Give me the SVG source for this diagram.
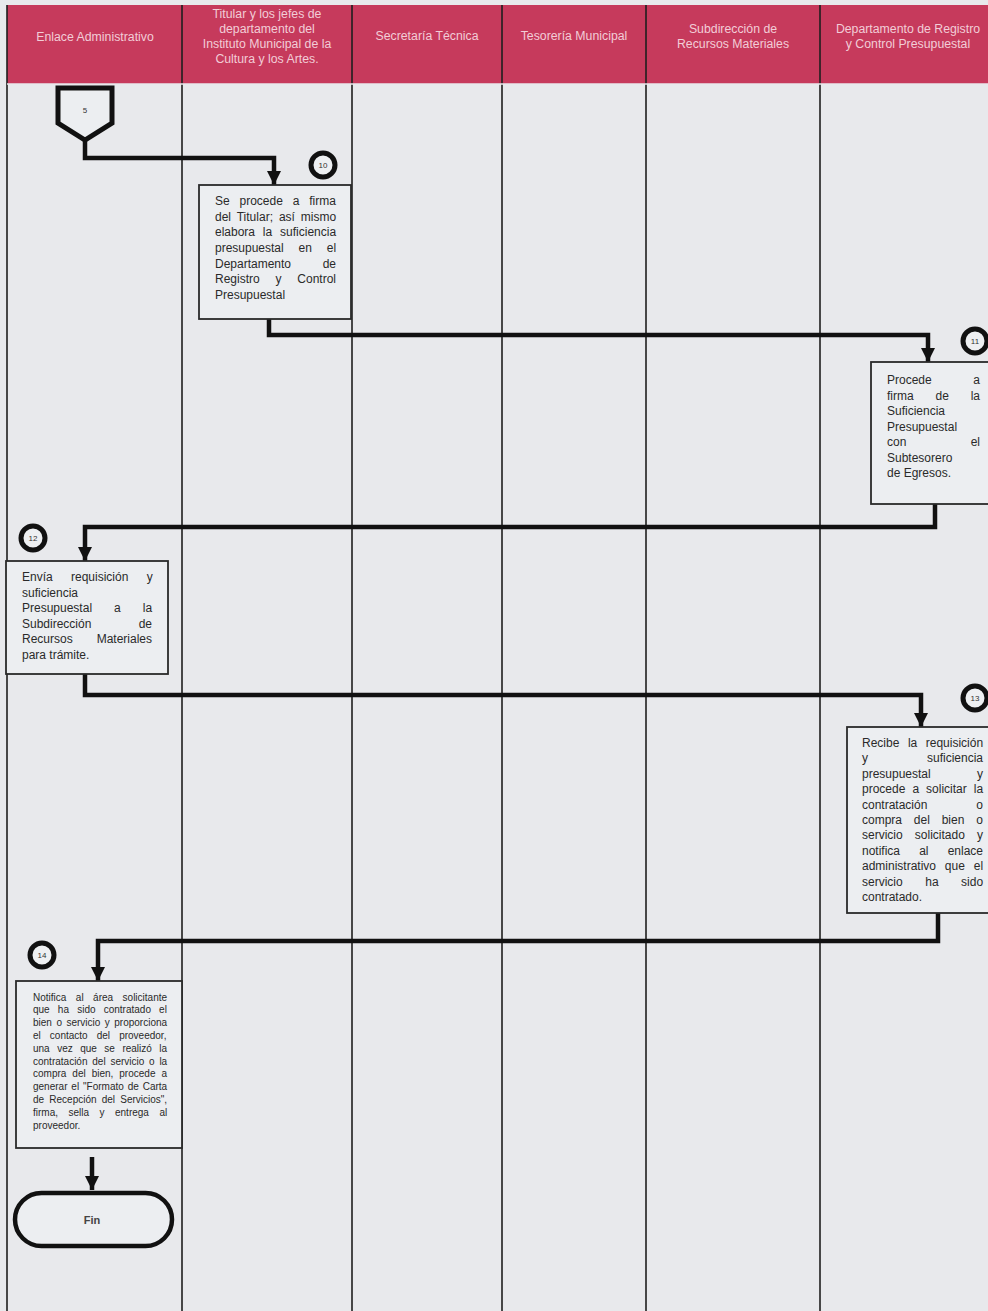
<svg xmlns="http://www.w3.org/2000/svg" width="988" height="1311" viewBox="0 0 988 1311">
<style>
.hdr{fill:#f2cdd7;font-family:"Liberation Sans",Arial,sans-serif;font-size:12.3px;text-anchor:middle}
.lane{stroke:#1e1e1e;stroke-width:1.6;fill:none}
.box{fill:#eceef1;stroke:#2a2a2a;stroke-width:1.8}
.t{font-family:"Liberation Sans",Arial,sans-serif;font-size:12px;fill:#2a2a2a}
.ts{font-family:"Liberation Sans",Arial,sans-serif;font-size:10px;fill:#2a2a2a}
.e{text-anchor:end}
.con{stroke:#111;stroke-width:4.5;fill:none}
.circ{fill:#eef0f2;stroke:#111;stroke-width:5}
.num{font-family:"Liberation Sans",Arial,sans-serif;font-size:8px;fill:#333;text-anchor:middle}
</style>
<defs>
<marker id="ah" markerUnits="userSpaceOnUse" markerWidth="16" markerHeight="16" refX="14" refY="7" orient="auto">
<path d="M0,0 L14,7 L0,14 Z" fill="#111"/>
</marker>
</defs>
<rect x="0" y="0" width="988" height="1311" fill="#e8e9ec"/>
<g id="header">
<rect x="7" y="5" width="981" height="79" fill="#c63a5c"/>
<text class="hdr" x="95" y="41">Enlace Administrativo</text>
<text class="hdr" x="267" y="18">Titular y los jefes de</text>
<text class="hdr" x="267" y="33">departamento del</text>
<text class="hdr" x="267" y="48">Instituto Municipal de la</text>
<text class="hdr" x="267" y="63">Cultura y los Artes.</text>
<text class="hdr" x="427" y="40">Secretaría Técnica</text>
<text class="hdr" x="574" y="40">Tesorería Municipal</text>
<text class="hdr" x="733" y="33">Subdirección de</text>
<text class="hdr" x="733" y="48">Recursos Materiales</text>
<text class="hdr" x="908" y="33">Departamento de Registro</text>
<text class="hdr" x="908" y="48">y Control Presupuestal</text>
</g>
<g id="lanes">
<line class="lane" x1="7" y1="5" x2="7" y2="1311"/>
<line class="lane" x1="182" y1="5" x2="182" y2="1311"/>
<line class="lane" x1="352" y1="5" x2="352" y2="1311"/>
<line class="lane" x1="502" y1="5" x2="502" y2="1311"/>
<line class="lane" x1="646" y1="5" x2="646" y2="1311"/>
<line class="lane" x1="820" y1="5" x2="820" y2="1311"/>
<line x1="7" y1="84" x2="988" y2="84" stroke="#e8e9ec" stroke-width="1.5"/>
</g>
<g id="connectors">
<path class="con" d="M85,140 V158 H274 V185" marker-end="url(#ah)"/>
<path class="con" d="M269,319 V335 H928 V362" marker-end="url(#ah)"/>
<path class="con" d="M935,504 V527 H85 V561" marker-end="url(#ah)"/>
<path class="con" d="M85,674 V695 H921 V727" marker-end="url(#ah)"/>
<path class="con" d="M938,913 V941 H98 V981" marker-end="url(#ah)"/>
<path class="con" d="M92,1157 V1190" marker-end="url(#ah)"/>
</g>
<g id="node5">
<path d="M58,88 H112 V123 L85,140 L58,123 Z" fill="#eceef1" stroke="#111" stroke-width="5"/>
<text class="num" x="85" y="113">5</text>
</g>
<g id="node10">
<rect class="box" x="199" y="185" width="152" height="134"/>
<circle class="circ" cx="323" cy="165" r="12"/>
<text class="num" x="323" y="168">10</text>
<text class="t" x="215" y="205" word-spacing="6.5">Se procede a firma</text>
<text class="t" x="215" y="221" word-spacing="2.6">del Titular; así mismo</text>
<text class="t" x="215" y="236" word-spacing="4.5">elabora la suficiencia</text>
<text class="t" x="215" y="252" word-spacing="11.5">presupuestal en el</text>
<text class="t" x="215" y="268">Departamento</text><text class="t e" x="336" y="268">de</text>
<text class="t" x="215" y="283" word-spacing="12.5">Registro y Control</text>
<text class="t" x="215" y="299">Presupuestal</text>
</g>
<g id="node11">
<rect class="box" x="871" y="362" width="118" height="142"/>
<circle class="circ" cx="975" cy="341" r="12"/>
<text class="num" x="975" y="344">11</text>
<text class="t" x="887" y="384">Procede</text><text class="t e" x="980" y="384">a</text>
<text class="t" x="887" y="400" word-spacing="18.5">firma de la</text>
<text class="t" x="887" y="415">Suficiencia</text>
<text class="t" x="887" y="431">Presupuestal</text>
<text class="t" x="887" y="446">con</text><text class="t e" x="980" y="446">el</text>
<text class="t" x="887" y="462">Subtesorero</text>
<text class="t" x="887" y="477">de Egresos.</text>
</g>
<g id="node12">
<rect class="box" x="6" y="561" width="162" height="113"/>
<circle class="circ" cx="33" cy="538" r="12"/>
<text class="num" x="33" y="541">12</text>
<text class="t" x="22" y="581" word-spacing="15">Envía requisición y</text>
<text class="t" x="22" y="597">suficiencia</text>
<text class="t" x="22" y="612" word-spacing="18.7">Presupuestal a la</text>
<text class="t" x="22" y="628">Subdirección</text><text class="t e" x="152" y="628">de</text>
<text class="t" x="22" y="643">Recursos</text><text class="t e" x="152" y="643">Materiales</text>
<text class="t" x="22" y="659">para trámite.</text>
</g>
<g id="node13">
<rect class="box" x="847" y="727" width="142" height="186"/>
<circle class="circ" cx="975" cy="698" r="12"/>
<text class="num" x="975" y="701">13</text>
<text class="t" x="862" y="747" word-spacing="5.2">Recibe la requisición</text>
<text class="t" x="862" y="762">y</text><text class="t e" x="983" y="762">suficiencia</text>
<text class="t" x="862" y="778">presupuestal</text><text class="t e" x="983" y="778">y</text>
<text class="t" x="862" y="793" word-spacing="3.7">procede a solicitar la</text>
<text class="t" x="862" y="809">contratación</text><text class="t e" x="983" y="809">o</text>
<text class="t" x="862" y="824" word-spacing="8.5">compra del bien o</text>
<text class="t" x="862" y="839" word-spacing="8.8">servicio solicitado y</text>
<text class="t" x="862" y="855" word-spacing="15.8">notifica al enlace</text>
<text class="t" x="862" y="870" word-spacing="5.5">administrativo que el</text>
<text class="t" x="862" y="886" word-spacing="19.2">servicio ha sido</text>
<text class="t" x="862" y="901">contratado.</text>
</g>
<g id="node14">
<rect class="box" x="16" y="981" width="166" height="167"/>
<circle class="circ" cx="42" cy="955" r="12"/>
<text class="num" x="42" y="958">14</text>
<text class="ts" x="33" y="1000.5" word-spacing="6.7">Notifica al área solicitante</text>
<text class="ts" x="33" y="1013.3" word-spacing="5.4">que ha sido contratado el</text>
<text class="ts" x="33" y="1026.1" word-spacing="1.7">bien o servicio y proporciona</text>
<text class="ts" x="33" y="1038.9" word-spacing="6.3">el contacto del proveedor,</text>
<text class="ts" x="33" y="1051.7" word-spacing="4.7">una vez que se realizó la</text>
<text class="ts" x="33" y="1064.5" word-spacing="2">contratación del servicio o la</text>
<text class="ts" x="33" y="1077.3" word-spacing="3.2">compra del bien, procede a</text>
<text class="ts" x="33" y="1090.1" word-spacing="1.1">generar el "Formato de Carta</text>
<text class="ts" x="33" y="1102.9" word-spacing="2.4">de Recepción del Servicios",</text>
<text class="ts" x="33" y="1115.7" word-spacing="7.7">firma, sella y entrega al</text>
<text class="ts" x="33" y="1128.5">proveedor.</text>
</g>
<g id="fin">
<rect x="15" y="1193" width="157" height="53" rx="26.5" fill="#eceef1" stroke="#111" stroke-width="4.5"/>
<text x="92" y="1224" font-family="'Liberation Sans',Arial,sans-serif" font-size="11px" font-weight="bold" fill="#444" text-anchor="middle">Fin</text>
</g>
</svg>
